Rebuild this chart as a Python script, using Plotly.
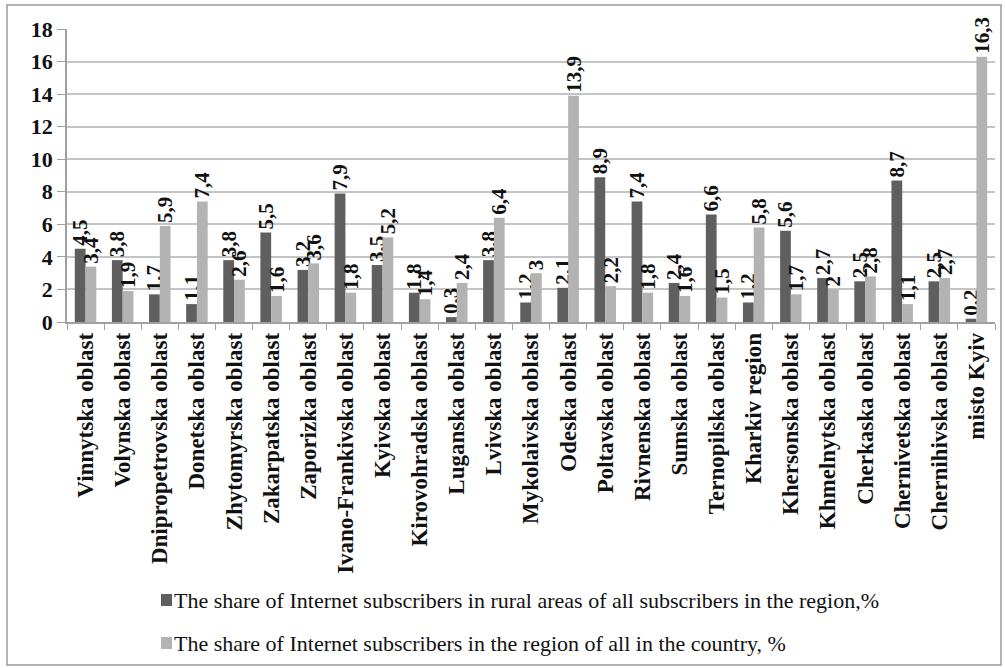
import plotly.graph_objects as go

regions = [
    "Vinnytska oblast", "Volynska oblast", "Dnipropetrovska oblast", "Donetska oblast",
    "Zhytomyrska oblast", "Zakarpatska oblast", "Zaporizka oblast", "Ivano-Frankivska oblast",
    "Kyivska oblast", "Kirovohradska oblast", "Luganska oblast", "Lvivska oblast",
    "Mykolaivska oblast", "Odeska oblast", "Poltavska oblast", "Rivnenska oblast",
    "Sumska oblast", "Ternopilska oblast", "Kharkiv region", "Khersonska oblast",
    "Khmelnytska oblast", "Cherkaska oblast", "Chernivetska oblast", "Chernihivska oblast",
    "misto Kyiv",
]
rural_share = [4.5, 3.8, 1.7, 1.1, 3.8, 5.5, 3.2, 7.9, 3.5, 1.8, 0.3, 3.8, 1.2, 2.1,
               8.9, 7.4, 2.4, 6.6, 1.2, 5.6, 2.7, 2.5, 8.7, 2.5, 0.2]
country_share = [3.4, 1.9, 5.9, 7.4, 2.6, 1.6, 3.6, 1.8, 5.2, 1.4, 2.4, 6.4, 3.0, 13.9,
                 2.2, 1.8, 1.6, 1.5, 5.8, 1.7, 2.0, 2.8, 1.1, 2.7, 16.3]
series_names = [
    "The share of Internet subscribers in rural areas of all subscribers in the region,%",
    "The share of Internet subscribers in the region of all in the country, %",
]
series_colors = ["#5f5f5f", "#b3b3b3"]
y_ticks = [0, 2, 4, 6, 8, 10, 12, 14, 16, 18]


def comma(v):
    return f"{v:g}".replace(".", ",")


SERIF = "Liberation Serif"

# plot area in pixels: left 67, right 995, top 29, bottom 322
PL, PR, PT, PB = 67, 995, 29, 322


def px_x(x):
    return (x - PL) / (PR - PL)


def px_y(y):
    return (PB - y) / (PB - PT)


fig = go.Figure()
for name, vals, color in zip(series_names, [rural_share, country_share], series_colors):
    fig.add_trace(go.Bar(
        x=regions, y=vals, name=name, marker_color=color, marker_line_width=0,
        text=[comma(v) for v in vals], textposition="outside", textangle=-90,
        constraintext="none", cliponaxis=False, showlegend=False,
        textfont=dict(family=SERIF, size=21, color="#111111", weight="bold"),
    ))

# key below the chart: a swatch and a caption per series
shapes = [dict(
    type="rect", xref="paper", yref="paper",
    x0=px_x(7), x1=px_x(1001), y0=px_y(665), y1=px_y(5),
    line=dict(color="#9a9a9a", width=1.5), fillcolor="rgba(0,0,0,0)",
)]
annotations = []
for i, (name, color) in enumerate(zip(series_names, series_colors)):
    cy = 600 + 43 * i
    shapes.append(dict(
        type="rect", xref="paper", yref="paper",
        x0=px_x(161), x1=px_x(172), y0=px_y(cy + 6), y1=px_y(cy - 6),
        line=dict(width=0), fillcolor=color,
    ))
    annotations.append(dict(
        xref="paper", yref="paper", x=px_x(172), y=px_y(cy),
        xanchor="left", yanchor="middle", showarrow=False, text=name,
        font=dict(family=SERIF, size=22, color="#111111"),
    ))

fig.update_layout(
    width=1005, height=668,
    margin=dict(l=PL, r=1005 - PR, t=PT, b=668 - PB),
    paper_bgcolor="white", plot_bgcolor="white",
    barmode="group", bargap=0.42, bargroupgap=0,
    xaxis=dict(
        type="category", tickangle=-90, tickson="boundaries",
        ticks="outside", ticklen=6, tickcolor="#a0a0a0",
        showline=True, linecolor="#a0a0a0", linewidth=1.5,
        tickfont=dict(family=SERIF, size=23, color="#111111", weight="bold"),
    ),
    yaxis=dict(
        range=[0, 18], tickvals=y_ticks,
        ticks="outside", ticklen=8, tickcolor="#a0a0a0",
        showline=True, linecolor="#a0a0a0", linewidth=1.5,
        gridcolor="#c4c4c4", gridwidth=1.5, zeroline=False,
        tickfont=dict(family=SERIF, size=22, color="#111111", weight="bold"),
    ),
    shapes=shapes,
    annotations=annotations,
)

fig.write_html("out.html")
